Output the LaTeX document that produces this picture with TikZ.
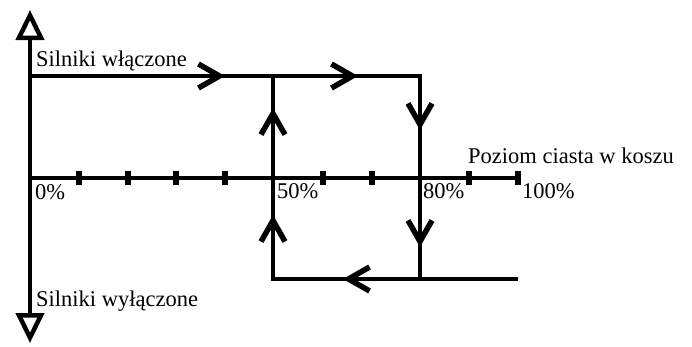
\documentclass[tikz,border=0pt]{standalone}
\usepackage{fontspec}
\setmainfont{Liberation Serif}
\usetikzlibrary{arrows.meta}

\begin{document}
\begin{tikzpicture}[x=1pt,y=-1pt,
  axis/.style={line width=4.5pt},
  flow/.style={line width=4.5pt, -{Straight Barb[length=21pt,width=24pt,line width=5.5pt]}},
  tickmark/.style={line width=6pt},
  lbl/.style={inner sep=0pt, anchor=base west, font=\fontsize{22.5}{26}\selectfont},
]
\useasboundingbox (0,0) rectangle (692,346);
% axes
\coordinate (o) at (30,178);
\coordinate (ytop) at (30,10);
\coordinate (ybot) at (30,343);
\coordinate (xend) at (518,178);
\draw[axis, {Triangle[open,length=30pt,width=28pt]}-{Triangle[open,length=30pt,width=28pt]}] (ybot) -- (ytop);
\draw[axis] (o) -- (xend);
\foreach \p in {1,2,3,4,6,7,9,10}
  \draw[tickmark] ({30+48.8*\p},171) -- ({30+48.8*\p},185);
% hysteresis loop
\coordinate (on) at (30,76);
\coordinate (c50t) at (273,76);
\coordinate (c80t) at (420,76);
\coordinate (c80b) at (420,279);
\coordinate (c50b) at (273,279);
\coordinate (xright) at (518,279);
\draw[axis] (on) -- (c80t) -- (c80b);
\draw[axis] (xright) -- (c50b) -- (c50t);
\coordinate (a1) at (225,76);
\coordinate (a2) at (358,76);
\coordinate (a3) at (420,130);
\coordinate (a4) at (420,247);
\coordinate (a5) at (343,279);
\coordinate (a6) at (273,215);
\coordinate (a7) at (273,108);
\draw[flow] (on) -- (a1);
\draw[flow] (c50t) -- (a2);
\draw[flow] (c80t) -- (a3);
\draw[flow] (a3) -- (a4);
\draw[flow] (xright) -- (a5);
\draw[flow] (c50b) -- (a6);
\draw[flow] (a6) -- (a7);
% labels
\node[lbl] (won) at (36,66) {Silniki włączone};
\node[lbl] (woff) at (36,306) {Silniki wyłączone};
\node[lbl] (p0) at (35,199) {0\%};
\node[lbl] (p50) at (277,198) {50\%};
\node[lbl] (p80) at (423,198) {80\%};
\node[lbl] (p100) at (522,198) {100\%};
\node[lbl] (lvl) at (468,163) {Poziom ciasta w koszu};
\end{tikzpicture}
\end{document}
